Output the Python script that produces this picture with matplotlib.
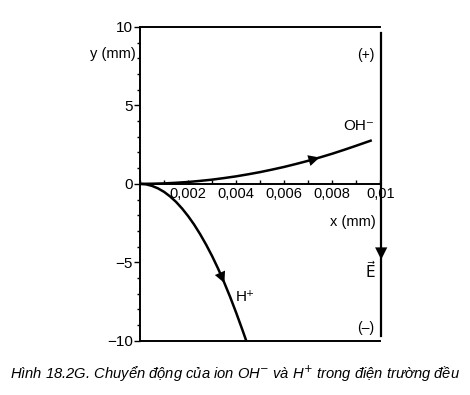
import matplotlib
matplotlib.use("Agg")
import matplotlib.pyplot as plt
from matplotlib.ticker import MultipleLocator, FuncFormatter

plt.rcParams['font.family'] = ['Liberation Sans', 'DejaVu Sans']

# trajectories (x in mm, y in mm)
oh_x = [0, 0.0005, 0.001, 0.0015, 0.002, 0.0025, 0.003, 0.0035, 0.004, 0.0045,
        0.005, 0.0055, 0.006, 0.0065, 0.007, 0.0075, 0.008, 0.0085, 0.009, 0.0096]
oh_y = [0, 0.01, 0.03, 0.07, 0.12, 0.19, 0.27, 0.37, 0.48, 0.61,
        0.75, 0.91, 1.08, 1.27, 1.47, 1.69, 1.92, 2.17, 2.43, 2.75]
h_x = [0, 0.00025, 0.0005, 0.00075, 0.001, 0.00125, 0.0015, 0.00175, 0.002,
       0.00225, 0.0025, 0.00275, 0.003, 0.00325, 0.0035, 0.00375, 0.004, 0.00425, 0.0044]
h_y = [0, -0.03, -0.13, -0.29, -0.51, -0.8, -1.15, -1.57, -2.05,
       -2.59, -3.2, -3.87, -4.6, -5.4, -6.27, -7.2, -8.2, -9.25, -9.9]

x_ticks = [0.002, 0.004, 0.006, 0.008, 0.01]
x_labels = ['0,002', '0,004', '0,006', '0,008', '0,01']
y_ticks = [-10, -5, 0, 5, 10]

fig = plt.figure(figsize=(4.7, 3.95), dpi=100)
ax = fig.add_axes([0.298, 0.137, 0.511, 0.795])
ax.set_xlim(0, 0.01)
ax.set_ylim(-10, 10)

ax.plot(oh_x, oh_y, color='black', lw=1.8)
ax.plot(h_x, h_y, color='black', lw=1.8)

# direction arrows on the curves
def arrow_on(xs, ys, i, f=0.5):
    x0 = xs[i] + (xs[i+1]-xs[i])*f
    y0 = ys[i] + (ys[i+1]-ys[i])*f
    dx = (xs[i+1]-xs[i])*0.05
    dy = (ys[i+1]-ys[i])*0.05
    ax.annotate('', xy=(x0+dx, y0+dy), xytext=(x0, y0),
                arrowprops=dict(arrowstyle='-|>', color='black', lw=0,
                                mutation_scale=20))

arrow_on(oh_x, oh_y, 14, 0.9)
arrow_on(h_x, h_y, 13, 1.0)

# spines
ax.spines['right'].set_visible(False)
ax.spines['bottom'].set_position(('data', 0))
ax.spines['left'].set_linewidth(1.4)
ax.spines['bottom'].set_linewidth(1.4)
ax.spines['top'].set_linewidth(1.4)
ax.plot([0, 0.01], [-10, -10], color='black', lw=1.4, clip_on=False)

# field line with arrow
ax.plot([0.01004, 0.01004], [9.6, -9.7], color='black', lw=1.6, clip_on=False)
ax.annotate('', xy=(0.01004, -5.0), xytext=(0.01004, -3.5),
            arrowprops=dict(arrowstyle='-|>', color='black', lw=0,
                            mutation_scale=22), annotation_clip=False)
ax.text(0.0096, -5.5, r'$\vec{\mathrm{E}}$', fontsize=11, ha='center', va='center')
ax.text(0.00975, 8.2, '(+)', fontsize=10, ha='right', va='center')
ax.text(0.00975, -9.2, '(\u2013)', fontsize=10, ha='right', va='center')

ax.text(0.0091, 3.7, 'OH\u207b', fontsize=11, ha='center', va='center')
ax.text(0.0040, -7.2, 'H\u207a', fontsize=11, ha='left', va='center')

# ticks
ax.set_xticks(x_ticks)
ax.set_xticklabels(x_labels)
ax.xaxis.set_minor_locator(MultipleLocator(0.001))
ax.tick_params(axis='x', which='both', direction='in', length=3, width=1,
               labelsize=10.5, pad=2)
ax.set_yticks(y_ticks)
ax.yaxis.set_major_formatter(FuncFormatter(lambda v, p: f'{int(v)}'.replace('-', '\u2212')))
ax.yaxis.set_minor_locator(MultipleLocator(1))
ax.tick_params(axis='y', which='major', direction='out', length=4, width=1,
               labelsize=11, pad=1)
ax.tick_params(axis='y', which='minor', direction='out', length=2, width=1)
ax.xaxis.set_ticks_position('bottom')
ax.yaxis.set_ticks_position('left')

ax.text(-0.0002, 8.3, 'y (mm)', fontsize=10.5, ha='right', va='center')
ax.text(0.0098, -2.4, 'x (mm)', fontsize=10.5, ha='right', va='center')

fig.text(0.5, 0.053, 'Hình 18.2G. Chuyển động của ion OH$^{-}$ và H$^{+}$ trong điện trường đều',
         ha='center', va='center', fontsize=10.6, style='italic')

fig.savefig('out.png', dpi=100)
